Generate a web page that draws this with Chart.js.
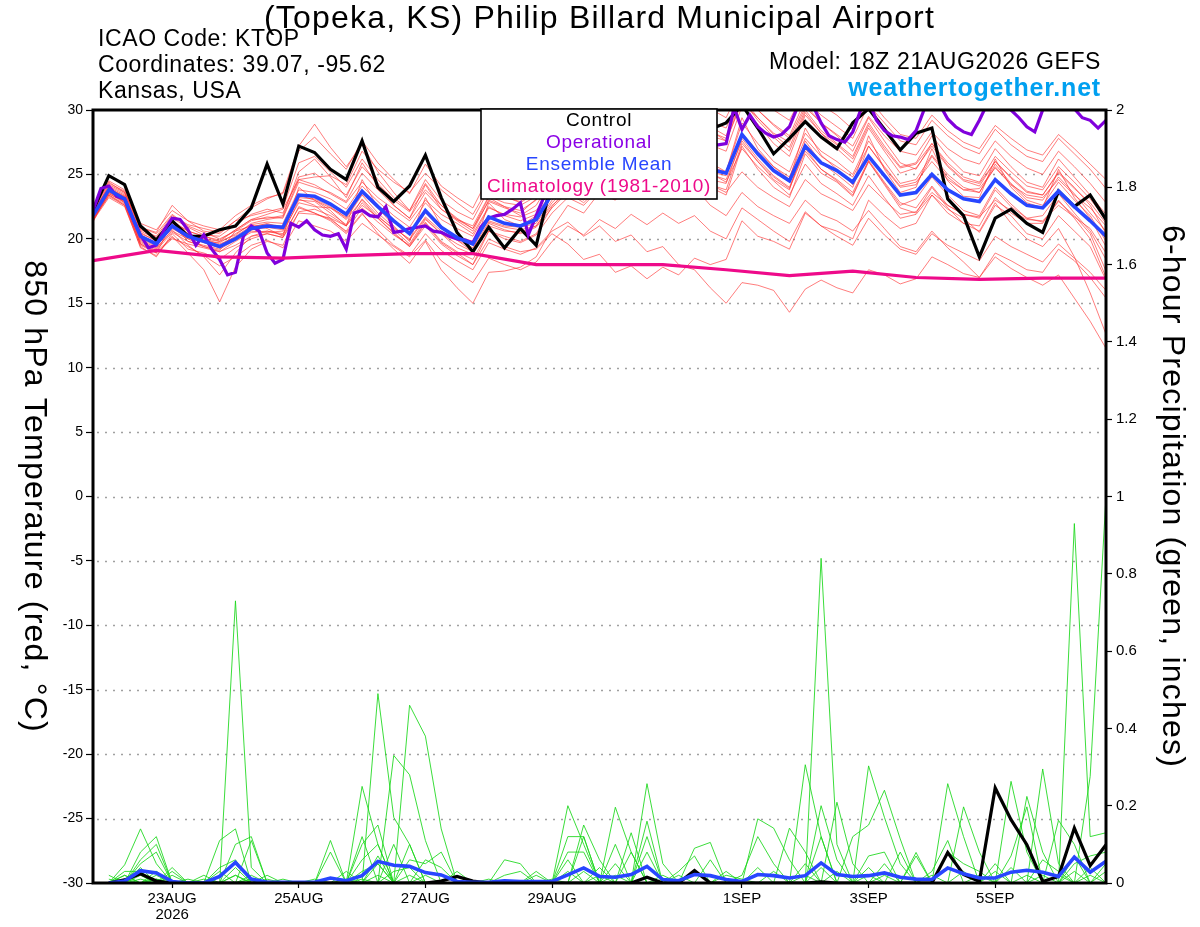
<!DOCTYPE html>
<html>
<head>
<meta charset="utf-8">
<title>KTOP GEFS 850 hPa Temperature / Precipitation</title>
<script src="https://cdn.jsdelivr.net/npm/chart.js@4.4.1/dist/chart.umd.min.js"></script>
<style>
  html, body { margin: 0; padding: 0; background: #fff; }
  canvas { display: block; }
</style>
</head>
<body>
<canvas id="gefsChart" width="1200" height="927"></canvas>
<script>
// Forecast hours from 18Z 21AUG2026 (6-hourly ensemble, 3-hourly operational)
const hours6 = [0,6,12,18,24,30,36,42,48,54,60,66,72,78,84,90,96,102,108,114,120,126,132,138,144,150,156,162,168,174,180,186,
  192,198,204,210,216,222,228,234,240,246,252,258,264,270,276,282,288,294,300,306,312,318,324,330,336,342,348,354,360,366,372,378,384];
const hours3 = [0,3,6,9,12,15,18,21, 24,27,30,33,36,39,42,45, 48,51,54,57,60,63,66,69, 72,75,78,81,84,87,90,93,
  96,99,102,105,108,111,114,117, 120,123,126,129,132,135,138,141, 144,147,150,153,156,159,162,165, 168,171,174,177,180,183,186,189,
  192,195,198,201,204,207,210,213, 216,219,222,225,228,231,234,237, 240,243,246,249,252,255,258,261, 264,267,270,273,276,279,282,285,
  288,291,294,297,300,303,306,309, 312,315,318,321,324,327,330,333, 336,339,342,345,348,351,354,357, 360,363,366,369,372,375,378,381, 384];
const precipHours = hours6.slice(1); // 6-hour totals start at +6h
const climoHours = [0,24,48,72,96,120,144,168,192,216,240,264,288,312,336,360,384];

// x-axis tick marks
const tickHours = [30, 78, 126, 174, 246, 294, 342];
const tickLabels = ['23AUG', '25AUG', '27AUG', '29AUG', '1SEP', '3SEP', '5SEP'];

// 850 hPa temperature (C)
const controlTemp = [22.2,24.9,24.2,21.0,19.9,21.4,20.2,20.2, 20.7,21.0,22.4,25.8,22.7,27.2,26.7,25.4, 24.6,27.6,24.0,22.9,24.1,26.5,23.2,20.5,
  19.0,20.9,19.3,20.8,19.5,24.5,25.8,26.5, 27.6,27.0,28.2,27.5,28.6,28.0,29.0,28.5, 29.0,30.4,28.6,26.6,27.8,29.1,27.9,27.0,
  29.0,30.1,28.5,26.9,28.2,28.6,23.1,21.8, 18.6,21.6,22.3,21.2,20.5,23.7,22.5,23.4, 21.5];
const meanTemp = [21.8,23.8,23.1,20.2,19.6,21.0,20.2,19.8, 19.4,20.0,20.8,21.0,20.9,23.4,23.3,22.7, 21.9,23.7,22.5,21.4,20.4,22.2,20.9,20.1,
  19.6,21.7,21.2,21.0,21.5,23.5,24.8,24.3, 25.5,25.0,25.8,25.2,26.0,25.5,26.2,25.4, 25.1,28.1,26.6,25.3,24.5,27.2,25.9,25.3,
  24.4,26.4,24.9,23.4,23.6,25.0,23.8,23.1, 22.9,24.6,23.5,22.6,22.4,23.7,22.5,21.4, 20.2];
const operTemp = [22.2,23.9,24.1,23.3,23.1,21.6,20.3,19.3, 19.5,20.7,21.6,21.5,20.7,19.5,20.3,19.2, 18.4,17.2,17.4,20.2,21.0,20.6,18.9,18.1,
  18.4,21.2,20.9,21.4,20.7,20.3,20.2,20.4, 19.2,22.0,22.2,21.8,21.7,22.5,20.5,20.6, 20.8,20.9,21.0,20.6,20.5,20.2,20.0,19.9,
  19.7,20.9,21.6,21.8,21.9,22.3,22.8,20.3, 21.8,23.3,24.8,26.2,27.4,28.2,28.9,29.5, 30.4,30.2,30.6,29.8,30.3,30.8,30.2,29.6,
  30.4,30.9,30.1,29.4,28.6,27.9,27.3,27.3, 27.4,30.2,28.5,29.6,28.7,28.2,27.9,28.1, 28.7,30.2,30.8,30.3,29.0,28.0,27.7,27.5,
  28.3,30.0,30.7,29.2,28.4,28.0,27.9,27.7, 28.4,30.0,30.8,30.4,29.3,28.7,28.3,28.1, 29.2,30.5,31.0,30.6,30.0,29.4,28.7,28.3,
  30.0,30.7,31.0,30.6,30.1,29.4,29.2,28.6, 29.2];
const climoTemp = [18.3,19.1,18.6,18.5,18.7,18.85,18.85,18.0,18.0,18.0,17.6,17.15,17.5,17.0,16.85,16.95,16.95];

const memberTemps = [
  [22.0,24.2,23.6,20.8,20.1, 21.6,20.9,20.3,20.2,21.1,21.9,22.3,22.0, 24.8,25.1,24.2,23.4,25.6,24.3,23.0,22.1,23.8,22.6,21.5,20.8,22.9,22.4,22.0,23.1,
   25.2,26.8,26.0,27.6,27.0,28.1,27.2,28.5,27.8,28.9,28.0,27.6, 30.6,29.4,28.2,27.5,30.2,29.0,28.1,27.2,29.5,28.0,26.8,26.5,28.3,27.0,26.2,25.8,27.6,26.4,25.5,25.0,26.8,25.6,24.3,22.8],
  [21.5,23.4,22.7,19.6,19.0, 20.1,19.4,18.7,17.9,18.6,19.5,19.9,19.3, 21.4,21.0,20.6,19.8,21.2,20.3,19.4,18.6,19.9,18.3,17.4,16.6,18.5,18.0,17.6,18.2,
   19.8,21.0,20.3,21.5,20.8,21.9,21.1,22.0,21.2,21.8,20.6,20.0, 22.4,21.5,20.6,19.8,22.1,21.0,20.2,19.5,21.6,20.3,19.2,18.8,20.4,19.5,18.9,18.3,20.2,19.4,18.8,18.2,19.6,18.5,17.4,16.0],
  [21.9,23.9,23.3,20.5,19.8, 21.3,20.6,20.2,19.9,20.7,21.5,21.6,21.8, 25.2,26.2,24.8,23.2,25.9,24.1,22.6,21.6,24.2,22.3,21.4,20.6,23.0,22.5,21.8,22.6,
   24.6,26.1,25.3,27.0,26.5,27.8,26.9,28.2,27.5,28.6,27.3,26.8, 30.3,28.9,27.4,26.4,29.6,28.2,27.3,26.2,28.8,27.0,25.5,25.8,27.4,25.7,24.6,24.3,26.0,24.8,23.7,23.4,25.1,23.9,22.8,21.2],
  [21.4,23.2,22.5,19.4,18.6, 20.4,19.2,18.9,18.4,19.3,20.0,20.4,20.1, 22.5,22.0,21.5,20.6,22.4,21.3,20.3,19.5,21.3,19.8,19.0,18.4,20.6,20.0,19.7,20.3,
   22.0,23.2,22.6,23.9,23.2,24.5,23.8,24.9,24.1,25.3,24.0,23.4, 27.2,25.4,24.0,23.2,26.6,25.1,24.4,23.3,26.0,24.3,22.6,23.1,24.8,23.4,22.2,21.8,24.0,22.7,21.6,21.8,23.5,22.0,20.6,18.4],
  [22.3,24.5,23.8,21.2,20.7, 22.2,21.4,21.0,20.7,21.8,22.6,23.2,23.5, 26.8,27.9,26.6,25.4,27.6,25.9,24.6,23.5,25.8,24.1,23.2,22.4,24.8,24.2,23.9,25.0,
   27.4,28.9,28.1,29.6,29.0,30.4,29.5,30.8,30.0,31.2,30.1,29.4, 32.0,31.1,30.0,29.2,31.6,30.4,29.6,28.5,30.9,29.4,28.1,27.8,29.6,28.4,27.5,27.0,28.8,27.8,26.9,26.5,28.1,27.0,25.8,24.6],
  [21.6,23.5,22.9,19.8,19.2, 20.7,19.5,18.6,17.2,18.9,20.2,20.6,20.4, 23.0,22.9,22.0,21.1,23.1,21.8,20.7,19.6,21.5,20.4,19.3,18.8,21.0,20.6,20.5,21.0,
   22.8,24.0,23.5,24.6,24.0,25.1,24.4,25.6,24.8,25.9,24.6,24.3, 27.8,26.2,24.9,24.0,27.0,25.4,24.6,23.6,26.1,24.4,22.8,22.4,24.1,22.6,21.9,21.6,23.8,22.5,21.6,21.3,22.9,21.8,20.4,17.5],
  [21.7,23.6,23.0,20.0,19.4, 20.9,20.0,19.4,19.0,19.8,20.5,20.6,20.3, 22.4,22.0,21.4,20.4,21.9,20.7,19.5,18.7,20.4,19.1,18.3,17.6,19.7,19.2,18.8,19.3,
   20.6,21.3,20.2,21.0,19.8,20.3,19.0,19.4,18.0,17.6,16.2,15.0, 16.6,16.4,16.0,14.3,16.1,16.8,16.2,15.8,17.6,17.2,16.5,16.9,18.6,18.0,17.3,17.0,18.9,18.3,17.6,17.4,19.2,18.3,17.0,15.4],
  [22.1,24.0,23.4,20.6,20.0, 21.4,20.6,20.2,19.8,20.3,21.2,21.5,21.7, 24.6,24.2,23.5,22.8,24.4,23.2,22.3,21.4,23.0,21.9,21.2,20.4,22.5,21.8,21.4,21.9,
   23.6,25.0,24.2,25.6,24.9,26.0,25.2,26.3,25.4,26.1,25.1,24.4, 27.0,25.6,24.5,23.4,25.8,24.3,23.5,22.6,24.9,23.2,21.6,21.9,23.4,22.3,21.6,20.5,22.6,21.8,20.4,20.0,21.8,20.6,19.4,16.8],
  [21.3,23.7,22.8,19.5,18.9, 21.2,19.8,19.4,19.1,20.6,21.0,20.8,20.2, 24.0,23.0,22.2,21.0,24.6,22.4,21.0,19.8,23.2,21.0,19.9,19.0,22.8,21.5,21.0,21.8,
   24.4,25.9,24.6,26.8,25.4,27.1,25.6,27.4,25.9,27.6,25.9,25.2, 29.4,27.0,25.6,24.6,28.6,26.5,25.4,24.2,28.0,25.4,23.6,24.0,27.0,24.5,23.3,23.2,26.2,24.0,22.8,22.4,25.4,23.2,21.6,19.4],
  [21.5,23.3,22.6,19.3,18.7, 20.2,18.9,17.6,15.1,17.8,19.2,19.8,19.5, 22.1,22.3,21.8,21.0,22.8,21.6,20.5,19.4,21.2,19.7,18.9,18.0,20.6,20.2,19.8,20.4,
   22.5,24.0,23.2,24.8,24.0,25.5,24.6,26.2,25.3,26.8,25.6,25.2, 29.0,27.4,26.0,25.2,28.2,26.8,26.0,25.0,27.6,26.0,24.3,24.6,26.5,25.0,24.0,23.6,25.8,24.3,23.2,23.0,24.8,23.5,22.0,20.6],
  [21.9,23.8,23.2,20.3,19.7, 21.0,20.3,20.0,19.6,20.1,20.9,21.2,20.8, 23.1,22.6,21.6,20.5,22.0,20.4,19.2,18.1,19.8,17.6,16.2,15.0,17.4,17.5,17.8,18.6,
   20.8,22.6,22.0,23.6,23.0,24.4,23.6,24.9,24.0,25.4,24.2,23.8, 27.4,26.0,24.6,23.8,27.6,25.9,25.0,24.0,27.2,25.5,24.0,24.2,26.4,24.8,23.8,23.6,25.6,24.2,23.0,22.6,24.4,23.0,21.8,19.8],
  [22.0,24.1,23.5,20.7,20.2, 21.8,21.1,20.8,20.5,21.4,22.4,23.1,23.6, 27.2,28.9,27.1,25.6,27.3,25.2,23.6,22.2,24.3,22.6,21.6,20.8,23.2,22.5,22.2,23.0,
   25.6,27.4,26.5,28.3,27.6,29.1,28.2,29.6,28.8,30.2,29.1,28.6, 31.4,30.0,28.8,27.8,30.4,29.0,28.0,26.8,29.4,27.6,25.9,25.4,27.4,25.9,24.8,24.4,26.4,25.2,24.1,23.8,25.6,24.4,23.1,21.5],
  [21.6,23.7,23.1,20.1,19.5, 20.8,20.1,19.7,19.3,20.1,20.7,20.9,20.7, 23.2,23.1,22.5,21.6,23.4,22.0,20.9,19.9,21.6,20.4,19.6,19.0,21.2,20.7,20.4,20.9,
   22.4,23.6,22.8,24.0,23.1,24.2,23.3,24.4,23.2,24.0,22.6,21.8, 23.6,22.5,21.8,21.2,23.0,21.9,21.4,20.6,22.2,20.8,19.4,19.0,20.6,19.3,18.2,17.0,18.6,17.7,17.0,16.4,17.2,15.4,13.6,11.5],
  [21.8,23.5,22.8,19.9,19.3, 20.6,20.0,19.8,19.7,20.4,21.1,21.3,21.2, 23.8,23.6,23.1,22.3,24.1,22.9,21.8,20.9,22.8,21.5,20.8,20.2,22.4,21.9,21.7,22.2,
   23.9,25.2,24.5,25.8,25.0,26.2,25.3,26.4,25.5,26.2,25.0,24.6, 27.6,26.0,24.8,23.9,26.8,25.4,24.5,23.4,26.0,24.2,22.4,22.0,24.0,22.4,21.2,20.6,22.8,21.2,20.0,19.4,20.8,18.6,15.8,12.6],
  [22.2,24.3,23.7,20.9,20.4, 21.9,21.0,20.5,20.0,20.6,21.4,21.7,21.6, 24.4,24.0,23.6,22.9,25.1,23.8,22.6,21.6,23.6,22.3,21.5,21.0,23.3,22.8,22.6,23.3,
   25.5,27.0,26.3,27.9,27.2,28.6,27.8,29.2,28.4,29.8,28.7,28.0, 31.2,30.0,28.9,28.0,30.8,29.6,28.7,27.8,30.4,29.0,27.6,27.3,29.2,28.0,27.1,26.6,28.5,27.3,26.4,26.0,27.8,26.6,25.4,23.9],
  [21.4,23.6,22.9,19.7,19.1, 20.5,19.8,19.5,19.2,19.9,20.6,20.5,20.6, 22.8,22.5,22.4,21.7,23.5,22.4,21.3,20.4,22.0,20.8,20.2,19.8,21.4,21.0,20.9,21.2,
   23.0,24.3,23.7,25.1,24.5,25.7,25.0,26.0,25.4,26.3,25.2,24.9, 28.2,26.8,25.6,24.8,27.8,26.4,25.6,24.8,27.2,25.6,24.1,24.4,26.0,24.6,23.8,23.9,25.5,24.2,23.4,23.2,24.6,23.4,22.4,21.0],
  [21.7,23.9,23.2,20.2,19.5, 20.9,20.2,19.9,19.5,20.2,21.0,21.1,21.0, 23.4,23.0,22.4,21.5,23.0,21.6,20.4,19.4,21.0,19.6,18.7,18.0,20.0,19.4,19.0,19.2,
   20.4,19.6,18.4,18.8,17.4,17.9,16.9,17.8,17.2,18.5,18.0,18.4, 21.4,20.2,19.8,19.2,22.0,21.0,20.6,20.0,23.0,21.8,20.8,21.2,23.4,22.0,21.2,21.0,23.2,22.0,21.2,21.2,23.0,21.6,20.0,17.0],
  [22.2,24.4,23.6,20.9,20.5, 22.6,21.4,20.6,20.4,21.4,21.8,22.1,22.4, 25.9,26.4,25.2,24.0,26.2,24.6,23.2,22.2,24.6,23.0,22.1,21.5,23.8,23.2,22.9,23.8,
   26.2,27.7,26.8,28.4,27.6,28.9,28.0,29.3,28.4,29.5,28.3,27.8, 31.0,29.4,28.1,27.1,30.0,28.4,27.4,26.4,29.0,27.2,25.6,25.9,28.0,26.4,25.2,24.9,27.0,25.6,24.4,24.0,26.2,24.8,23.4,21.9],
  [21.5,23.4,22.6,19.6,18.9, 20.0,19.6,19.3,19.0,19.5,20.2,20.4,20.1, 22.0,21.9,21.6,21.0,22.6,21.7,20.8,20.0,21.7,20.6,19.9,19.3,21.3,20.9,20.7,21.0,
   22.6,23.6,23.0,24.2,23.6,24.6,24.0,25.0,24.3,25.1,24.2,23.6, 25.2,24.0,23.2,22.5,24.6,23.5,22.9,22.2,24.2,23.0,21.9,22.1,23.6,22.6,21.9,21.7,23.0,22.2,21.5,21.4,22.6,21.7,20.8,18.9],
  [22.0,23.9,23.3,20.4,19.9, 21.5,20.4,20.0,19.8,20.7,21.5,21.9,22.3, 24.6,24.8,24.9,24.2,26.8,25.4,24.4,23.6,25.1,23.8,22.8,21.9,24.0,23.3,22.8,23.6,
   25.8,27.2,26.5,28.0,27.4,28.7,27.9,29.1,28.3,29.5,28.4,27.6, 30.8,29.2,27.9,26.8,29.8,28.2,27.0,25.9,28.6,26.8,25.1,25.5,27.2,25.6,24.5,24.1,26.0,24.7,23.6,23.4,25.2,24.0,22.6,20.4]
];

// 6-hour precipitation (inches), +6h .. +384h
const controlPrecip = [0,.008,.024,.005,0,0,0, 0,0,0,.002,0,0,0,0, 0,0,0,0,0,0,.005,.017, .005,0,0,0,0,0,0,0,
  0,0,0,.015,0,0,.032,0, 0,0,0,0,0,0,.003,0, 0,0,0,0,0,0,.079,.022, .004,.246,.164,.099,.004,.017,.142,.045, .099];
const meanPrecip = [0,.005,.032,.026,.004,0,0, .017,.053,.01,.002,.002,.002,.002,.013, .006,.019,.056,.046,.043,.027,.021,.004,
  .002,.002,.006,.004,.004,.004,.021,.039, .017,.015,.022,.043,.009,.006,.022,.019, .009,.004,.022,.019,.013,.019,.052,.022,
  .017,.019,.026,.015,.01,.009,.039,.024, .013,.013,.028,.033,.028,.017,.067,.028, .056];

const memberPrecips = [
  [0,.047,.14,.05,0,0,0, 0,.73,.04,0,0,0,0,0, 0,0,.07,0,0,0,0,0, 0,0,0,0,0,0,.2,.1, 0,0,0,0,0,0,0,0, 0,0,0,0,0,0,.84,.1, 0,0,0,0,0,0,0,0, 0,0,0,0,0,0,.07,0, 0],
  [0,0,.08,.12,0,0,0, .11,.14,0,0,0,0,0,0, 0,.25,.1,0,0,0,0,0, 0,0,0,0,0,0,0,0, 0,.196,.08,0,0,0,0,0, 0,0,0,0,0,.306,.12,0, 0,0,0,0,0,0,0,0, 0,0,.263,.08,0,0,0,0, 0],
  [0,0,.06,.1,0,0,0, 0,.1,.12,0,0,0,0,0, 0,0,.49,.17,.1,0,0,0, 0,0,0,0,0,0,0,0, 0,0,0,.257,.05,0,0,0, 0,0,0,0,0,0,0,0, 0,.303,.17,.05,0,0,0,0, 0,0,0,0,0,0,0,.276, 1.0],
  [0,0,.05,.08,0,0,0, 0,0,.11,0,0,0,0,.11, 0,.12,0,.33,.28,.11,0,0, 0,0,0,0,0,0,0,0, 0,0,0,.16,0,0,0,0, 0,0,0,0,0,0,0,0, 0,0,0,0,.079,0,.257,.12, 0,0,0,0,0,0,0,0, 0],
  [0,0,.04,0,.04,0,0, .04,.06,0,0,0,0,0,0, 0,0,0,0,.46,.38,.14,0, 0,0,0,0,0,0,0,.15, .06,0,0,0,0,0,0,0, 0,0,.166,.142,.06,0,0,0, 0,0,0,0,0,0,0,0, 0,0,0,0,.295,.05,0,0, 0],
  [0,.03,.03,.03,0,0,0, 0,.04,0,0,0,0,0,.08, 0,.1,.15,0,0,0,0,0, 0,0,0,0,0,0,.12,.12, 0,0,.13,0,0,0,0,0, 0,0,0,0,0,0,0,0, .12,.15,.24,.114,0,0,0,0, 0,0,0,0,0,0,.93,.12, .13],
  [.02,0,0,0,.03,0,0, 0,0,0,0,0,0,0,0, 0,.06,.1,0,0,0,0,0, 0,0,.06,.05,0,0,0,0, 0,.1,0,0,0,0,.09,.105, 0,0,0,0,0,0,0,.209, .05,0,0,0,0,0,0,0, 0,0,0,.224,.08,0,0,0, 0],
  [.01,0,0,.03,0,0,.02, 0,0,.02,0,0,0,0,0, 0,0,0,0,.06,.05,.08,0, 0,0,0,0,0,0,.08,.08, 0,0,0,0,0,0,0,0, 0,.02,.12,.05,0,0,0,0, 0,0,0,0,0,0,0,.197, .08,0,0,0,0,0,0,0, 0],
  [0,.02,0,0,.02,0,0, 0,0,0,0,0,0,0,0, .03,0,0,.1,0,0,0,.03, 0,0,0,0,.03,0,0,0, .04,0,0,.12,0,0,0,0, 0,0,0,0,.142,.08,0,0, 0,0,0,0,0,0,0,0, 0,.05,0,0,0,.162,.1,0, 0],
  [0,.02,0,0,0,.01,0, 0,0,0,.02,0,0,0,0, 0,0,.05,0,0,.06,.04,0, 0,0,0,0,0,0,.06,0, 0,.05,0,0,.02,0,0,0, 0,0,0,0,0,0,.2,.06, 0,0,0,0,0,.03,.11,0, 0,0,0,0,0,0,0,0, .05],
  [0,0,.02,0,0,0,0, 0,.02,0,0,0,0,.01,0, 0,0,0,0,0,0,0,0, 0,0,.02,.03,0,.01,0,0, 0,0,0,0,0,.03,.07,0, 0,0,0,0,0,0,0,0, 0,.07,.08,0,.07,0,0,0, 0,0,.07,.197,0,0,0,0, 0],
  [0,0,0,.02,0,0,0, .03,0,0,0,.01,0,0,0, 0,0,0,0,.1,0,0,0, 0,0,0,0,.02,0,0,.12, 0,0,.08,0,0,0,0,0, .03,0,0,0,0,0,.12,0, 0,0,0,0,0,0,.08,.05, .03,0,0,0,0,0,0,0, 0],
  [0,0,.03,0,0,0,.01, 0,0,0,0,0,0,0,0, .01,0,0,0,0,0,0,0, 0,.01,0,0,0,0,0,0, 0,0,0,.08,0,.02,0,.06, 0,0,0,0,0,0,0,0, 0,0,0,.08,0,0,0,0, 0,.03,0,0,.06,.03,0,.04, 0],
  [0,.01,0,0,0,0,0, 0,0,.01,0,0,0,0,0, 0,.03,.05,0,0,0,0,0, 0,0,0,0,0,0,0,0, 0,0,0,0,0,0,.03,0, .02,.01,0,0,0,.05,0,0, 0,.04,0,0,0,.02,0,0, 0,0,0,0,0,0,.05,.07, .08],
  [0,0,0,.01,0,0,0, 0,.02,0,0,0,0,0,0, 0,0,0,.03,.04,0,0,0, 0,0,0,0,0,0,0,0, .02,0,0,0,.01,0,0,0, 0,0,0,.03,0,0,0,0, 0,0,.05,0,0,0,0,0, .02,0,.04,0,0,0,0,0, .03],
  [0,0,.01,0,0,0,0, 0,0,0,.01,0,0,0,0, 0,0,0,0,0,.02,0,0, 0,0,0,0,0,0,.03,0, 0,0,0,0,0,0,0,0, 0,0,.04,0,0,0,0,.03, 0,0,0,0,0,0,0,.03, 0,0,0,0,0,.02,0,.02, 0],
  [0,0,0,0,0,0,0, 0,0,0,0,0,0,0,0, 0,0,.02,0,0,0,0,0, 0,0,0,0,0,0,0,.03, 0,0,0,0,0,0,0,0, 0,0,0,0,0,0,.04,0, 0,0,0,0,0,0,0,0, 0,0,0,.02,0,0,0,0, 0],
  [0,0,0,.01,0,0,0, 0,0,0,0,0,0,0,0, 0,0,0,0,.02,0,0,0, 0,0,0,0,0,0,0,0, 0,0,0,0,0,0,0,0, 0,0,0,0,0,0,0,0, 0,.02,0,0,0,0,0,0, 0,0,0,0,0,0,.03,0, 0],
  [0,0,0,0,0,0,0, 0,0,.01,0,0,0,0,0, 0,0,0,0,0,0,0,0, 0,0,0,0,0,0,0,0, 0,.02,0,0,0,0,0,0, 0,0,0,0,0,0,0,0, 0,0,.02,0,0,0,0,0, 0,0,0,0,0,0,0,0, 0],
  [0,0,0,0,0,0,0, 0,0,0,0,0,0,0,0, 0,.01,0,0,0,0,0,0, 0,0,0,0,0,0,0,0, 0,0,0,0,0,0,0,0, 0,0,0,0,0,.02,0,0, 0,0,0,0,0,0,0,0, 0,0,0,0,.02,0,0,0, 0]
];

const FONT = "'Liberation Sans', Arial, Helvetica, sans-serif";
const toPoints = (xs, ys) => ys.map((v, i) => ({ x: xs[i], y: v }));

function buildDatasets() {
  const sets = [];
  memberTemps.forEach((m, k) => sets.push({
    label: 'Member ' + (k + 1), data: toPoints(hours6, m), yAxisID: 'y',
    borderColor: 'rgba(255, 45, 45, 0.62)', borderWidth: 1, pointRadius: 0, order: 6
  }));
  memberPrecips.forEach((m, k) => sets.push({
    label: 'Member precip ' + (k + 1), data: toPoints(precipHours, m), yAxisID: 'y2',
    borderColor: 'rgba(25, 215, 25, 0.85)', borderWidth: 1, pointRadius: 0, order: 5
  }));
  sets.push({ label: 'Control', data: toPoints(hours6, controlTemp), yAxisID: 'y',
    borderColor: '#000', borderWidth: 3.2, pointRadius: 0, order: 4 });
  sets.push({ label: 'Control precip', data: toPoints(precipHours, controlPrecip), yAxisID: 'y2',
    borderColor: '#000', borderWidth: 3.2, pointRadius: 0, order: 4 });
  sets.push({ label: 'Operational', data: toPoints(hours3, operTemp), yAxisID: 'y',
    borderColor: '#8000dc', borderWidth: 3.2, pointRadius: 0, order: 3 });
  sets.push({ label: 'Ensemble Mean', data: toPoints(hours6, meanTemp), yAxisID: 'y',
    borderColor: '#2846ff', borderWidth: 3.6, pointRadius: 0, order: 2 });
  sets.push({ label: 'Ensemble Mean precip', data: toPoints(precipHours, meanPrecip), yAxisID: 'y2',
    borderColor: '#2846ff', borderWidth: 3.6, pointRadius: 0, order: 2 });
  sets.push({ label: 'Climatology (1981-2010)', data: toPoints(climoHours, climoTemp), yAxisID: 'y',
    borderColor: '#ee0a8a', borderWidth: 3.2, pointRadius: 0, order: 1 });
  return sets;
}

// dotted horizontal grid at the temperature ticks
const dottedGrid = {
  id: 'dottedGrid',
  beforeDatasetsDraw(chart) {
    const { ctx, chartArea: a, scales: { y } } = chart;
    ctx.save();
    ctx.strokeStyle = '#a0a0a0';
    ctx.lineWidth = 1.3;
    ctx.setLineDash([2, 6]);
    y.ticks.forEach(t => {
      if (t.value <= y.min || t.value >= y.max) return;
      const py = Math.round(y.getPixelForValue(t.value)) + 0.5;
      ctx.beginPath();
      ctx.moveTo(a.left + 4, py);
      ctx.lineTo(a.right, py);
      ctx.stroke();
    });
    ctx.restore();
  }
};

// frame + legend box drawn above the lines
const frameAndKey = {
  id: 'frameAndKey',
  afterDatasetsDraw(chart) {
    const { ctx, chartArea: a } = chart;
    ctx.save();
    ctx.strokeStyle = '#000';
    ctx.lineWidth = 3;
    ctx.strokeRect(a.left, a.top, a.right - a.left, a.bottom - a.top);

    const bx = 481, by = a.top - 1, bw = 236, bh = 90;
    ctx.fillStyle = '#fff';
    ctx.fillRect(bx, by, bw, bh);
    ctx.lineWidth = 1.6;
    ctx.strokeRect(bx, by, bw, bh);

    const keys = [['Control', '#000'], ['Operational', '#8a00e6'], ['Ensemble Mean', '#2846ff'], ['Climatology (1981-2010)', '#ee0a8a']];
    ctx.font = '19px ' + FONT;
    ctx.letterSpacing = '0.7px';
    ctx.textAlign = 'center';
    ctx.textBaseline = 'middle';
    keys.forEach(([txt, col], i) => {
      ctx.fillStyle = col;
      ctx.fillText(txt, bx + bw / 2, by + 12 + i * 21.8);
    });
    ctx.restore();
  }
};

// title, station / model header lines and the two axis titles (both read top to bottom)
const headerText = {
  id: 'headerText',
  afterDraw(chart) {
    const { ctx, chartArea: a } = chart;
    const midY = (a.top + a.bottom) / 2;
    ctx.save();
    ctx.textBaseline = 'middle';
    ctx.fillStyle = '#000';

    ctx.font = '32px ' + FONT;
    ctx.letterSpacing = '1.2px';
    ctx.textAlign = 'center';
    ctx.fillText('(Topeka, KS) Philip Billard Municipal Airport', (a.left + a.right) / 2, 19);

    ctx.font = '23px ' + FONT;
    ctx.letterSpacing = '0.6px';
    ctx.textAlign = 'left';
    ctx.fillText('ICAO Code: KTOP', 98, 40);
    ctx.fillText('Coordinates: 39.07, -95.62', 98, 66);
    ctx.fillText('Kansas, USA', 98, 92);
    ctx.textAlign = 'right';
    ctx.fillText('Model: 18Z 21AUG2026 GEFS', 1101, 63);
    ctx.fillStyle = '#00a0f0';
    ctx.font = 'bold 25px ' + FONT;
    ctx.letterSpacing = '0.8px';
    ctx.fillText('weathertogether.net', 1101, 89);

    ctx.fillStyle = '#000';
    ctx.font = '32px ' + FONT;
    ctx.letterSpacing = '1.2px';
    ctx.textAlign = 'center';
    [['850 hPa Temperature (red, \u00B0C)', 34], ['6-hour Precipitation (green, inches)', 1172]].forEach(([txt, cx]) => {
      ctx.save();
      ctx.translate(cx, midY);
      ctx.rotate(Math.PI / 2);
      ctx.fillText(txt, 0, 0);
      ctx.restore();
    });
    ctx.restore();
  }
};

new Chart(document.getElementById('gefsChart').getContext('2d'), {
  type: 'line',
  data: { datasets: buildDatasets() },
  plugins: [dottedGrid, frameAndKey, headerText],
  options: {
    responsive: false,
    animation: false,
    devicePixelRatio: 1,
    events: [],
    layout: { padding: { top: 110, left: 0, right: 0, bottom: 0 } },
    elements: { line: { tension: 0 } },
    plugins: {
      legend: { display: false },
      tooltip: { enabled: false },
      title: { display: false }
    },
    scales: {
      x: {
        type: 'linear', min: 0, max: 384,
        border: { display: false },
        grid: { drawOnChartArea: false, drawTicks: true, tickLength: 5, tickColor: '#000', tickWidth: 1.2 },
        afterBuildTicks: scale => { scale.ticks = tickHours.map(v => ({ value: v })); },
        ticks: {
          autoSkip: false, maxRotation: 0, padding: 2, color: '#000',
          font: { family: FONT, size: 15, lineHeight: 1.12 },
          callback: (v, i) => (i === 0 ? [tickLabels[0], '2026'] : tickLabels[i])
        },
        afterFit: scale => { scale.height = 44; }
      },
      y: {
        position: 'left', min: -30, max: 30,
        border: { display: false },
        grid: { drawOnChartArea: false, drawTicks: true, tickLength: 7, tickColor: '#000', tickWidth: 1.2 },
        ticks: { stepSize: 5, color: '#000', padding: 3, font: { family: FONT, size: 14 } },
        afterFit: scale => { scale.width = 93; }
      },
      y2: {
        position: 'right', min: 0, max: 2,
        border: { display: false },
        grid: { drawOnChartArea: false, drawTicks: true, tickLength: 6, tickColor: '#000', tickWidth: 1.2 },
        ticks: {
          stepSize: 0.2, color: '#000', padding: 4, font: { family: FONT, size: 15 },
          callback: v => String(Number(v.toFixed(1)))
        },
        afterFit: scale => { scale.width = 94; }
      }
    }
  }
});
</script>
</body>
</html>
